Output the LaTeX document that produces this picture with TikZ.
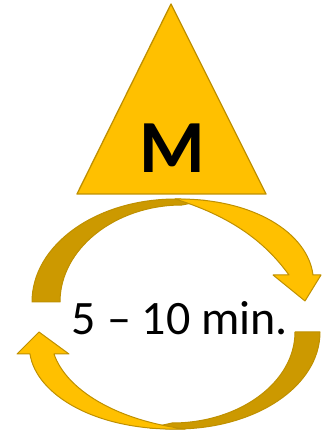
\documentclass[tikz,border=0pt]{standalone}
\usepackage{fontspec}
\setmainfont{Carlito}
\usetikzlibrary{positioning}
\definecolor{gold}{HTML}{FFC000}
\definecolor{golddark}{HTML}{CC9900}
\definecolor{goldline}{HTML}{BF9000}
\begin{document}
\begin{tikzpicture}[
    x=1pt, y=1pt,
    back/.style={fill=golddark, draw=goldline, line width=1pt, line join=round},
    front/.style={fill=gold, draw=goldline, line width=1pt, line join=round},
    bigtext/.style={inner sep=0pt, font=\fontsize{48}{50}\selectfont}
]
    \useasboundingbox (0,0) rectangle (322,434);
    \draw[front, line width=1.3pt] (171,430) -- (266,240) -- (77,240) -- cycle;
    \node[inner sep=0pt, anchor=base, font=\fontsize{75}{78}\selectfont\bfseries] (mlabel) at (172,261) {M};
    \node[bigtext, anchor=base] (time) at (180,99) {5 -- 10 min.};
    \draw[back] (32,132) .. controls (32,189) and (96,235) .. (176,235)
        -- (205,233.5) -- (182,229) .. controls (115,229) and (60,185) .. (60,132) -- cycle;
    \draw[back] (320,102) .. controls (320,48) and (256,5) .. (176,5)
        -- (150,6) -- (172,11) .. controls (240,11) and (295,52) .. (295,102) -- cycle;
    \draw[front] (175,235) .. controls (255,236) and (308,200) .. (313,159)
        -- (321,159) -- (305,133) -- (273,159) -- (289,159)
        .. controls (270,185) and (240,215) .. (175,235) -- cycle;
    \draw[front] (185,5) .. controls (95,2) and (36,40) .. (30,80)
        -- (17,80) -- (39,102) -- (69,80) -- (54,80)
        .. controls (66,45) and (115,14) .. (185,5) -- cycle;
\end{tikzpicture}
\end{document}
